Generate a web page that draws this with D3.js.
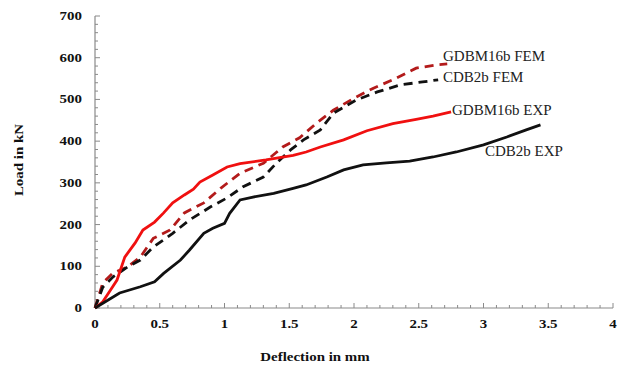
<!DOCTYPE html>
<html>
<head>
<meta charset="utf-8">
<script src="https://cdn.jsdelivr.net/npm/d3@7"></script>
<style>
  body { margin: 0; background: #fff; }
  svg text { font-family: "Liberation Serif", "Times New Roman", serif; }
  .tick-label { font-weight: bold; font-size: 11.5px; fill: #111; }
  .axis-title { font-weight: bold; font-size: 11.5px; fill: #111; }
  .series-label { font-size: 15px; fill: #222; }
</style>
</head>
<body>
<div id="chart"></div>
<script>
// Deflection (mm) / load (kN) pairs
const gdbmExpX = [0, 0.06, 0.12, 0.17, 0.23, 0.31, 0.37, 0.46, 0.53, 0.60, 0.69, 0.76, 0.81, 0.91, 1.02, 1.12, 1.32, 1.53, 1.63, 1.74, 1.92, 2.10, 2.30, 2.48, 2.61, 2.75];
const gdbmExpY = [0, 15, 43, 67, 122, 156, 187, 206, 228, 252, 271, 285, 302, 319, 338, 346, 355, 366, 374, 386, 403, 425, 442, 452, 460, 470];

const cdbExpX = [0, 0.19, 0.35, 0.46, 0.53, 0.66, 0.73, 0.84, 0.91, 1.00, 1.04, 1.12, 1.22, 1.38, 1.53, 1.63, 1.79, 1.92, 2.07, 2.25, 2.43, 2.61, 2.79, 3.00, 3.18, 3.33, 3.44];
const cdbExpY = [0, 36, 51, 63, 83, 115, 139, 179, 191, 203, 227, 259, 266, 275, 287, 295, 314, 331, 343, 348, 352, 362, 374, 391, 410, 427, 439];

const gdbmFemX = [0, 0.06, 0.14, 0.25, 0.35, 0.45, 0.58, 0.69, 0.84, 0.97, 1.12, 1.30, 1.45, 1.58, 1.71, 1.84, 2.00, 2.15, 2.30, 2.48, 2.64, 2.72];
const gdbmFemY = [0, 60, 84, 98, 122, 167, 187, 228, 252, 287, 323, 347, 386, 408, 443, 474, 503, 527, 547, 575, 583, 585];

const cdbFemX = [0, 0.06, 0.14, 0.25, 0.35, 0.45, 0.60, 0.73, 0.89, 1.02, 1.14, 1.30, 1.40, 1.51, 1.61, 1.74, 1.84, 2.02, 2.18, 2.36, 2.53, 2.65];
const cdbFemY = [0, 50, 75, 98, 115, 146, 179, 211, 242, 264, 290, 314, 347, 379, 403, 427, 467, 499, 518, 535, 542, 547];

const seriesNames = ["GDBM16b FEM", "CDB2b FEM", "GDBM16b EXP", "CDB2b EXP"];
const xTicks = [0, 0.5, 1, 1.5, 2, 2.5, 3, 3.5, 4];
const yTicks = [0, 100, 200, 300, 400, 500, 600, 700];

const width = 620, height = 365;
const margin = { top: 16, right: 7, bottom: 57, left: 95 };

// the original image is stretched sideways, so the bold labels come out wide
const stretch = 1.3;

const svg = d3.select("#chart").append("svg")
  .attr("width", width)
  .attr("height", height);

const x = d3.scaleLinear().domain([0, 4]).range([margin.left, width - margin.right]);
const y = d3.scaleLinear().domain([0, 700]).range([height - margin.bottom, margin.top]);

const axisColor = "#8a8a8a";

// Y axis: line, minor ticks every 20 (inside), labels
const yAxis = svg.append("g");
yAxis.append("line")
  .attr("x1", x(0)).attr("x2", x(0))
  .attr("y1", y(0)).attr("y2", y(700))
  .attr("stroke", axisColor).attr("stroke-width", 1.2);
yAxis.selectAll("line.minor")
  .data(d3.range(0, 701, 20))
  .join("line")
  .attr("class", "minor")
  .attr("x1", x(0)).attr("x2", d => x(0) + (d % 100 === 0 ? 5 : 3))
  .attr("y1", d => y(d)).attr("y2", d => y(d))
  .attr("stroke", axisColor).attr("stroke-width", 1);
yAxis.selectAll("text")
  .data(yTicks)
  .join("text")
  .attr("class", "tick-label")
  .attr("transform", d => "translate(" + (x(0) - 13) + "," + (y(d) + 4) + ") scale(" + stretch + ",1)")
  .attr("text-anchor", "end")
  .text(d => d);

// X axis: line, minor ticks every 0.1 (inside), labels
const xAxis = svg.append("g");
xAxis.append("line")
  .attr("x1", x(0)).attr("x2", x(4))
  .attr("y1", y(0)).attr("y2", y(0))
  .attr("stroke", axisColor).attr("stroke-width", 1.2);
xAxis.selectAll("line.minor")
  .data(d3.range(0, 41))
  .join("line")
  .attr("class", "minor")
  .attr("x1", d => x(d / 10)).attr("x2", d => x(d / 10))
  .attr("y1", y(0)).attr("y2", d => y(0) - (d % 5 === 0 ? 5 : 3))
  .attr("stroke", axisColor).attr("stroke-width", 1);
xAxis.selectAll("text")
  .data(xTicks)
  .join("text")
  .attr("class", "tick-label")
  .attr("transform", d => "translate(" + x(d) + "," + (y(0) + 20) + ") scale(" + stretch + ",1)")
  .attr("text-anchor", "middle")
  .text(d => d);

// Axis titles
svg.append("text")
  .attr("class", "axis-title")
  .attr("transform", "translate(23,160) rotate(-90) scale(" + stretch + ",1)")
  .attr("text-anchor", "middle")
  .text("Load in kN");

svg.append("text")
  .attr("class", "axis-title")
  .attr("transform", "translate(315,361) scale(" + stretch + ",1)")
  .attr("text-anchor", "middle")
  .text("Deflection in mm");

// Curves
const line = d3.line()
  .x(d => x(d[0]))
  .y(d => y(d[1]));

const series = [
  { xs: gdbmFemX, ys: gdbmFemY, color: "#b31b1b", dash: "9,6" },
  { xs: cdbFemX, ys: cdbFemY, color: "#111", dash: "9,6" },
  { xs: gdbmExpX, ys: gdbmExpY, color: "#f01010", dash: null },
  { xs: cdbExpX, ys: cdbExpY, color: "#111", dash: null }
];

series.forEach(s => {
  svg.append("path")
    .datum(d3.zip(s.xs, s.ys))
    .attr("d", line)
    .attr("fill", "none")
    .attr("stroke", s.color)
    .attr("stroke-width", 2.8)
    .attr("stroke-dasharray", s.dash);
});

// Labels next to the curve ends
const labelPos = [[443, 61], [443, 82], [452, 115], [485, 156]];
svg.selectAll("text.series-label")
  .data(seriesNames)
  .join("text")
  .attr("class", "series-label")
  .attr("x", (d, i) => labelPos[i][0])
  .attr("y", (d, i) => labelPos[i][1])
  .text(d => d);
</script>
</body>
</html>
